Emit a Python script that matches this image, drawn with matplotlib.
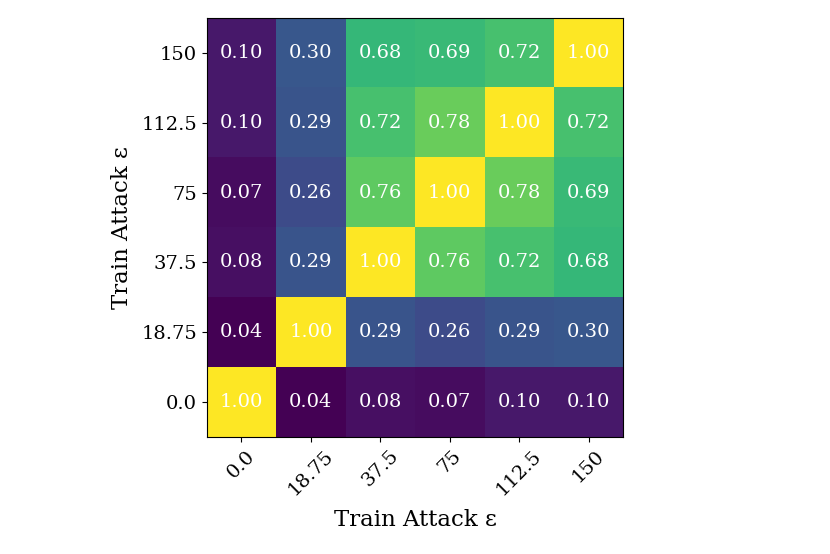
import matplotlib
matplotlib.use("Agg")
import matplotlib.pyplot as plt
import numpy as np

plt.rcParams['font.family'] = ['DejaVu Serif']

eps_labels = ["0.0", "18.75", "37.5", "75", "112.5", "150"]
row_0 = [1.00, 0.04, 0.08, 0.07, 0.10, 0.10]
row_18 = [0.04, 1.00, 0.29, 0.26, 0.29, 0.30]
row_37 = [0.08, 0.29, 1.00, 0.76, 0.72, 0.68]
row_75 = [0.07, 0.26, 0.76, 1.00, 0.78, 0.69]
row_112 = [0.10, 0.29, 0.72, 0.78, 1.00, 0.72]
row_150 = [0.10, 0.30, 0.68, 0.69, 0.72, 1.00]

data = np.array([row_0, row_18, row_37, row_75, row_112, row_150])

fig = plt.figure(figsize=(8.3, 5.54), dpi=100)
ax = fig.add_axes([0.249, 0.211, 0.502, 0.7565])
ax.imshow(data, cmap='viridis', origin='lower', aspect='auto')
n = len(eps_labels)
for i in range(n):
    for j in range(n):
        ax.text(j, i, f"{data[i, j]:.2f}", ha='center', va='center', color='white', fontsize=14)
ax.set_xticks(range(n))
ax.set_yticks(range(n))
ax.set_xticklabels(eps_labels, rotation=45, fontsize=14)
ax.set_yticklabels(eps_labels, fontsize=14)
ax.set_xlabel("Train Attack ε", fontsize=16.5, labelpad=7)
ax.set_ylabel("Train Attack ε", fontsize=16.5, labelpad=6)
fig.savefig("out.png", dpi=100)
